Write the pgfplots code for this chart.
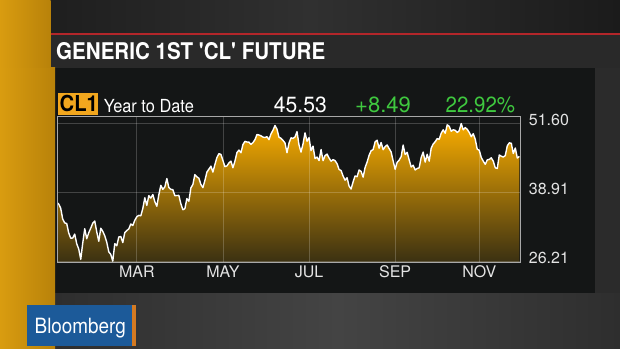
\documentclass[border=0pt]{standalone}
\usepackage{fontspec}
\setmainfont{TeX Gyre Heros}[Ligatures=TeXOff]
\usepackage{graphicx}
\usepackage{pgfplots}
\pgfplotsset{compat=1.18}
\usepackage{pgfplotstable}

\definecolor{bgdark}{HTML}{202020}
\definecolor{topA}{HTML}{1B1B1B}
\definecolor{topB}{HTML}{303030}
\definecolor{headbar}{HTML}{292929}
\definecolor{redline}{HTML}{B3262A}
\definecolor{panel}{HTML}{141616}
\definecolor{rightside}{HTML}{2B2B2B}
\definecolor{botA}{HTML}{2E2E2E}
\definecolor{botB}{HTML}{444444}
\definecolor{orgA}{HTML}{D99C10}
\definecolor{orgB}{HTML}{B8820A}
\definecolor{clbox}{HTML}{F2A71E}
\definecolor{bbblue}{HTML}{1C5A99}
\definecolor{bborange}{HTML}{D47A22}
\definecolor{upgreen}{HTML}{3FC83F}
\definecolor{boxgray}{HTML}{A8A8A8}
\definecolor{labelgray}{HTML}{E4E4E4}
\definecolor{fillTop}{HTML}{F8AC00}
\definecolor{fillMid}{HTML}{DC9A02}
\definecolor{fillBot}{HTML}{3A3012}

\pgfplotstableread{
x y
0 37.04
1 36.76
2 35.97
3 33.97
4 33.27
5 33.16
6 31.41
7 30.44
8 30.48
9 31.20
10 29.42
11 28.46
12 26.55
13 29.53
14 32.19
15 30.34
16 31.45
17 32.30
18 33.22
19 33.62
20 31.62
21 29.88
22 32.28
23 31.72
24 30.89
25 29.69
26 27.94
27 27.45
28 26.21
29 29.44
30 29.04
31 30.66
32 30.77
33 29.64
34 31.48
35 31.87
36 32.15
37 33.07
38 32.78
39 33.75
40 34.40
41 34.66
42 34.57
43 35.92
44 37.90
45 36.50
46 38.29
47 37.84
48 38.50
49 37.18
50 36.34
51 38.46
52 40.20
53 39.44
54 39.91
55 41.45
56 39.79
57 39.46
58 39.39
59 38.28
60 38.32
61 38.34
62 36.79
63 35.70
64 35.89
65 37.75
66 37.26
67 39.72
68 40.36
69 42.17
70 41.76
71 41.50
72 40.36
73 39.78
74 41.08
75 42.63
76 43.18
77 43.73
78 42.64
79 44.04
80 45.33
81 46.03
82 45.92
83 44.78
84 43.65
85 43.78
86 44.32
87 44.66
88 43.44
89 44.66
90 46.23
91 46.70
92 46.21
93 47.72
94 48.31
95 48.19
96 48.16
97 47.75
98 48.08
99 48.62
100 49.56
101 49.48
102 49.33
103 49.10
104 49.01
105 49.17
106 48.62
107 49.69
108 50.36
109 51.23
110 50.56
111 49.07
112 48.88
113 48.49
114 48.01
115 46.21
116 47.98
117 48.96
118 48.85
119 49.13
120 50.11
121 47.64
122 46.33
123 47.85
124 49.88
125 48.33
126 48.99
127 46.60
128 47.43
129 45.14
130 45.41
131 44.76
132 46.80
133 44.75
134 45.68
135 45.95
136 45.24
137 44.65
138 44.94
139 44.75
140 44.19
141 43.13
142 42.92
143 41.92
144 41.14
145 41.60
146 40.06
147 39.51
148 40.83
149 41.93
150 41.80
151 43.02
152 42.77
153 41.71
154 43.49
155 44.49
156 45.74
157 46.58
158 46.79
159 48.22
160 48.52
161 47.05
162 48.10
163 46.77
164 47.33
165 47.64
166 46.98
167 46.35
168 44.70
169 43.16
170 44.44
171 44.83
172 45.50
173 47.62
174 45.88
175 46.29
176 44.90
177 43.58
178 43.91
179 43.03
180 43.30
181 43.44
182 45.34
183 46.32
184 44.48
185 45.93
186 44.67
187 47.05
188 47.83
189 48.24
190 48.81
191 48.69
192 49.83
193 50.44
194 49.81
195 51.35
196 51.09
197 50.18
198 50.44
199 50.35
200 49.94
201 50.29
202 51.60
203 50.43
204 50.85
205 50.52
206 49.96
207 49.18
208 49.72
209 48.70
210 46.86
211 46.67
212 45.34
213 44.66
214 44.07
215 44.89
216 44.98
217 45.27
218 44.66
219 43.41
220 43.32
221 45.81
222 45.57
223 45.42
224 45.69
225 47.49
226 48.03
227 47.96
228 46.06
229 47.08
230 45.23
231 45.53
}\cldata

\begin{document}
\begin{tikzpicture}[x=1pt,y=1pt]
\useasboundingbox (0,0) rectangle (620,348);
% background
\fill[bgdark] (0,0) rectangle (620,348);
\shade[left color=topA, right color=topA, middle color=topB] (0,315) rectangle (620,348);
\fill[headbar] (50.5,280) rectangle (620,313);
\fill[redline] (50.5,313) rectangle (620,315);
\fill[panel] (55,55) rectangle (595,280);
\fill[rightside] (595,55) rectangle (620,280);
\shade[left color=botA, right color=botA, middle color=botB] (55,0) rectangle (620,55);
\shade[left color=orgA, right color=orgB] (0,0) rectangle (55,280);
\shade[left color=orgA, right color=orgB] (0,280) rectangle (50.5,348);
% Bloomberg logo
\fill[bbblue] (27,2.4) rectangle (132,43.5);
\fill[bborange] (132,2.4) rectangle (135.5,43.5);
\node[anchor=base, text=white, inner sep=0pt] at (80.3,15)
  {\scalebox{0.9}[1]{\fontsize{21}{23}\selectfont Bloomberg}};
% header
\node[anchor=base west, text=white, inner sep=0pt] at (56,288.7)
  {\scalebox{0.894}[1]{\fontsize{23}{25}\selectfont\bfseries GENERIC 1ST 'CL' FUTURE}};
% CL1 line
\fill[clbox] (58,232.5) rectangle (98,255);
\node[anchor=base west, text=black, inner sep=0pt] at (59.5,236.1)
  {\scalebox{0.92}[1]{\fontsize{22}{24}\selectfont\bfseries CL1}};
\node[anchor=base west, text=white, inner sep=0pt] at (103.6,235.4)
  {\scalebox{0.91}[1]{\fontsize{18}{20}\selectfont Year to Date}};
\node[anchor=base east, text=white, inner sep=0pt] at (327,235.4)
  {\scalebox{0.96}[1]{\fontsize{22}{24}\selectfont 45.53}};
\node[anchor=base west, text=upgreen, inner sep=0pt] at (355,235.4)
  {\fontsize{22}{24}\selectfont +8.49};
\node[anchor=base west, text=upgreen, inner sep=0pt] at (445.5,235.4)
  {\scalebox{0.93}[1]{\fontsize{22}{24}\selectfont 22.92\%}};

\begin{axis}[
  at={(57.3pt,85.7pt)}, anchor=south west,
  width=463.4pt, height=145.3pt, scale only axis,
  xmin=0.3, xmax=231.7, ymin=26.0, ymax=52.8,
  xtick={40,83,126,169,211},
  xticklabels={MAR,MAY,JUL,SEP,NOV},
  ytick={26.21,38.91,51.60},
  yticklabels={26.21,38.91,51.60},
  yticklabel pos=right,
  grid=major,
  major grid style={draw=white, opacity=0.2, line width=0.8pt},
  major tick length=0pt,
  axis line style={draw=boxgray, line width=1pt},
  axis on top,
  /pgf/number format/assume math mode=true,
  tick label style={font=\fontsize{16}{18}\selectfont, text=labelgray},
  yticklabel style={anchor=west, xshift=4.7pt, yshift=3.5pt},
  no markers,
]
\addplot[draw=none, top color=fillTop, middle color=fillMid, bottom color=fillBot]
  table[x=x,y=y]{\cldata} |- (axis cs:0,26.0) -- cycle;
\addplot[white, line width=1.4pt, line join=round] table[x=x,y=y]{\cldata};
\end{axis}
\end{tikzpicture}
\end{document}
